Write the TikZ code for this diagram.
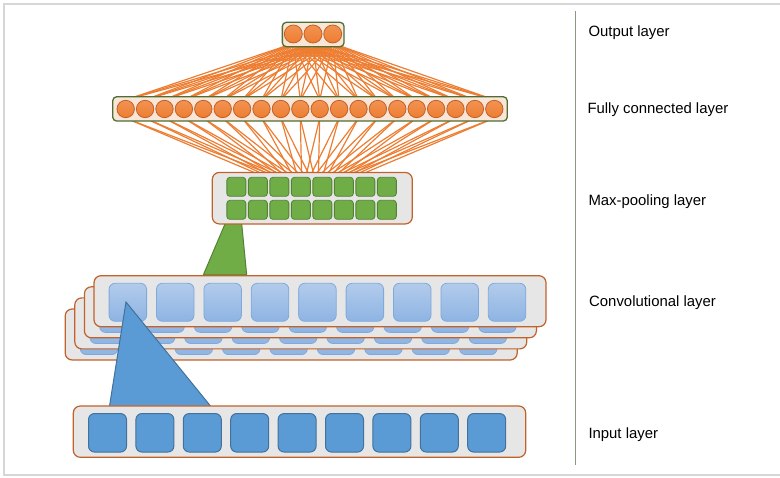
\documentclass[tikz,border=0pt]{standalone}
\usepackage{fontspec}
\setmainfont{Liberation Sans}
\definecolor{org}{HTML}{ED7D31}
\definecolor{orgT}{HTML}{F29352}
\definecolor{orgB}{HTML}{C0622A}
\definecolor{peach}{HTML}{FBE5D6}
\definecolor{grnB}{HTML}{4E6E34}
\definecolor{brn}{HTML}{C0622A}
\definecolor{lgray}{HTML}{E7E6E6}
\definecolor{grn}{HTML}{70AD47}
\definecolor{grnD}{HTML}{548235}
\definecolor{cbT}{HTML}{B2CBEB}
\definecolor{cbBot}{HTML}{8EB4E3}
\definecolor{cbB}{HTML}{7FA9DC}
\definecolor{ib}{HTML}{5B9BD5}
\definecolor{ibB}{HTML}{41719C}
\definecolor{frm}{HTML}{D6D6D6}
\definecolor{vln}{HTML}{8A9A80}
\pgfdeclarelayer{lines}
\pgfsetlayers{lines,main}
\begin{document}
\begin{tikzpicture}[x=1pt,y=-1pt,
  obox/.style={draw=grnB, fill=peach, line width=1.3pt, rounded corners=4pt, inner sep=0},
  gbox/.style={draw=brn, fill=lgray, line width=1.2pt, rounded corners=7pt, inner sep=0},
  ocirc/.style={circle, draw=orgB, top color=orgT, bottom color=org, line width=0.8pt, inner sep=0},
  gsq/.style={draw=grnD, fill=grn, rounded corners=3pt, minimum width=19pt, minimum height=19pt, line width=0.8pt, inner sep=0},
  csq/.style={draw=cbB, top color=cbT, bottom color=cbBot, rounded corners=6pt, minimum width=37.5pt, minimum height=38pt, line width=0.8pt, inner sep=0},
  isq/.style={draw=ibB, fill=ib, rounded corners=6pt, minimum width=38pt, minimum height=38.5pt, line width=1pt, inner sep=0},
  conn/.style={draw=org, line width=1.2pt},
  lbl/.style={anchor=base west, inner sep=0, font=\fontsize{14.9}{17}\selectfont},
  gtri/.style={draw=grnD, fill=grn, line width=1pt},
  btri/.style={draw=ibB, fill=ib, line width=1pt}]
\useasboundingbox (0,0) rectangle (780,478);
% frame
\draw[frm, line width=2.2pt] (4,4) rectangle (795,475);
% separator and labels
\draw[vln, line width=1pt] (575.3,11.5) -- (575.3,465);
\node[lbl] (tout) at (588.3,36.3) {Output layer};
\node[lbl] (tfc) at (587.3,113.5) {Fully connected layer};
\node[lbl] (tmp) at (588.3,205.2) {Max-pooling layer};
\node[lbl] (tconv) at (589,306.2) {Convolutional layer};
\node[lbl] (tin) at (588.3,438.5) {Input layer};
% green triangle (pooling window)
\draw[gtri] (238.6,192) -- (203.3,275) -- (246.7,275) -- cycle;
% max-pooling layer
\node[gbox, minimum width=200pt, minimum height=51.5pt] (mp) at (312.3,198.2) {};
\foreach \j in {0,...,7} {
  \node[gsq] (ga\j) at ({236.35+21.5*\j},186.85) {};
  \node[gsq] (gb\j) at ({236.35+21.5*\j},209.85) {};
}
% output layer
\node[obox, minimum width=61.7pt, minimum height=24.4pt] (ob) at (313.2,34.5) {};
\foreach \i/\x in {1/293.3,2/313,3/332.7}
  \node[ocirc, minimum size=18pt] (o\i) at (\x,34) {};
% fully connected layer
\node[obox, minimum width=394.6pt, minimum height=24.3pt] (fb) at (310,108.9) {};
\foreach \i in {1,...,20}
  \node[ocirc, minimum size=17.4pt] (f\i) at ({125.7+19.4*(\i-1)},109) {};
% end points of the connectors on the max-pooling layer
\foreach \i in {1,...,20} {
  \coordinate (ma\i) at ({310+(125.7+19.4*(\i-1)-310)*0.25-6},174);
  \coordinate (mb\i) at ({310+(125.7+19.4*(\i-1)-310)*0.25+6},174);
}
% connectors
\begin{pgfonlayer}{lines}
\foreach \i in {1,2,3}
  \foreach \j in {1,...,20}
    \draw[conn] (o\i.south) -- (f\j.north);
\foreach \j in {1,...,20} {
  \draw[conn] (f\j.south) -- (ma\j);
  \draw[conn] (f\j.south) -- (mb\j);
}
\end{pgfonlayer}
% convolutional layers (back to front)
\foreach \k in {3,2,1,0} {
  \pgfmathsetmacro{\lx}{94-9.6*\k}
  \pgfmathsetmacro{\ty}{275.7+11.1*\k}
  \node[gbox, minimum width=452pt, minimum height=51pt] (conv\k) at (\lx+226,\ty+25.5) {};
  \foreach \j in {0,...,8}
    \node[csq] (c\k-\j) at ({\lx+33.85+47.4*\j},\ty+26.6) {};
}
% receptive field triangle
\draw[btri] (126,302) -- (109.3,407.5) -- (211.7,407.5) -- cycle;
% input layer
\node[gbox, minimum width=452.4pt, minimum height=51.3pt] (inp) at (299.5,431.65) {};
\foreach \j in {0,...,8}
  \node[isq] (i\j) at ({107.5+47.4*\j},432.8) {};
\end{tikzpicture}
\end{document}
